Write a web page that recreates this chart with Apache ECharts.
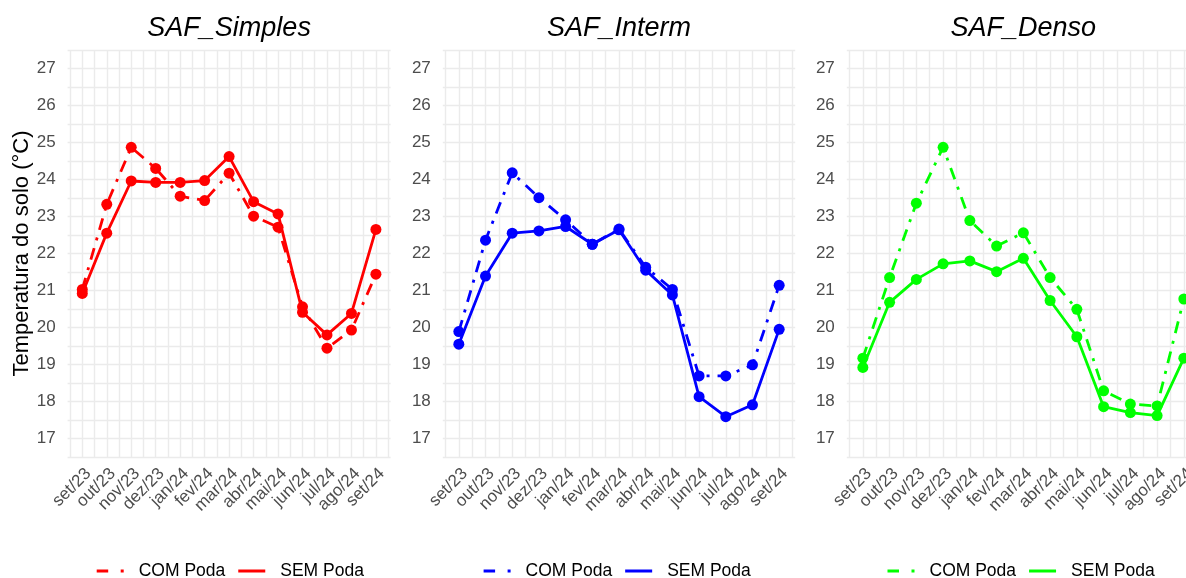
<!DOCTYPE html>
<html><head><meta charset="utf-8">
<script src="https://cdn.jsdelivr.net/npm/echarts@6/dist/echarts.min.js"></script>
<style>html,body{margin:0;padding:0;background:#fff;overflow:hidden;width:1186px;height:578px}#c{width:1215px;height:578px}</style>
</head><body><div id="c"></div>
<script>
// ---- data ----
const months = ['set/23','out/23','nov/23','dez/23','jan/24','fev/24','mar/24','abr/24','mai/24','jun/24','jul/24','ago/24','set/24'];
const panelTitles = ['SAF_Simples','SAF_Interm','SAF_Denso'];
const seriesNames = ['COM Poda','SEM Poda'];
const yTicks = [17,18,19,20,21,22,23,24,25,26,27];
const yTitle = 'Temperatura do solo (°C)';

const simplesCom = [21.03,23.33,24.87,24.30,23.55,23.43,24.17,23.01,22.71,20.56,19.44,19.93,21.44];
const simplesSem = [20.92,22.55,23.96,23.92,23.92,23.97,24.62,23.40,23.07,20.41,19.80,20.38,22.65];
const intermCom  = [19.89,22.36,24.18,23.51,22.91,22.25,22.66,21.63,21.03,18.69,18.69,18.99,21.14];
const intermSem  = [19.55,21.39,22.55,22.61,22.73,22.25,22.64,21.55,20.88,18.13,17.59,17.91,19.95];
const densoCom   = [19.17,21.35,23.36,24.87,22.89,22.20,22.56,21.35,20.49,18.29,17.93,17.88,20.77];
const densoSem   = [18.92,20.68,21.30,21.72,21.80,21.51,21.87,20.73,19.75,17.86,17.70,17.62,19.17];

const panelData = [[simplesCom, simplesSem],[intermCom, intermSem],[densoCom, densoSem]];
const colors = ['#FF0000','#0000FF','#00FF00'];

// ---- layout ----
const FONT = '"Liberation Sans", Arial, Helvetica, sans-serif';
const gridLayout = [{left:67.6,width:323},{left:442.8,width:352.4},{left:846.8,width:353.1}];
const legendLeft = [96.7, 483.6, 887.5];
const GRID_TOP = 50, GRID_H = 407;
const xTickVals = months.flatMap((m,i)=>[i-0.5,i]).concat([months.length-0.5]);
const xLabelVals = months.map((m,i)=>i);
const gridColor = '#EBEBEB';
const comDash = [12,8,3,8];
const comIcon = 'path://M0,0H11.5V3H0Z M24,0H27V3H24Z';

const chart = echarts.init(document.getElementById('c'), null, {renderer:'canvas'});

const grid=[], xAxis=[], yAxis=[], series=[], legend=[], graphic=[];
panelTitles.forEach((t,p)=>{
  const g = gridLayout[p];
  grid.push({left:g.left, width:g.width, top:GRID_TOP, height:GRID_H, containLabel:false});
  xAxis.push({
    type:'value', gridIndex:p, min:-0.6, max:months.length-1+0.6,
    axisLine:{show:false},
    axisTick:{show:false, customValues:xTickVals},
    axisLabel:{customValues:xLabelVals, formatter:v=>months[Math.round(v)], rotate:45,
      align:'right', verticalAlign:'top', margin:8, color:'#4D4D4D', fontSize:17, fontFamily:FONT},
    splitLine:{show:true, lineStyle:{color:gridColor, width:1.4}}
  });
  yAxis.push({
    type:'value', gridIndex:p, min:16.5, max:27.5, interval:0.5,
    axisLine:{show:false}, axisTick:{show:false},
    axisLabel:{customValues:yTicks, formatter:v=>String(v), margin:12, color:'#4D4D4D', fontSize:17, fontFamily:FONT},
    splitLine:{show:true, lineStyle:{color:gridColor, width:1.4}},
    name: p===0 ? yTitle : '', nameLocation:'middle', nameGap:35,
    nameTextStyle:{fontSize:22, color:'#000', fontFamily:FONT}
  });
  const [com, sem] = panelData[p];
  series.push({
    name:seriesNames[0], type:'line', xAxisIndex:p, yAxisIndex:p,
    data: months.map((m,i)=>[i, com[i]]),
    symbol:'circle', symbolSize:11, showSymbol:true,
    itemStyle:{color:colors[p]},
    lineStyle:{color:colors[p], width:2.8, type:comDash, cap:'butt'},
    emphasis:{disabled:true}, animation:false, z:3
  });
  series.push({
    name:seriesNames[1], type:'line', xAxisIndex:p, yAxisIndex:p,
    data: months.map((m,i)=>[i, sem[i]]),
    symbol:'circle', symbolSize:11, showSymbol:true,
    itemStyle:{color:colors[p]},
    lineStyle:{color:colors[p], width:2.8, type:'solid'},
    emphasis:{disabled:true}, animation:false, z:4
  });
  legend.push({
    left:legendLeft[p], top:562, orient:'horizontal', padding:0,
    itemWidth:27, itemHeight:3, itemGap:13, selectedMode:false,
    textStyle:{fontSize:17.5, color:'#000', fontFamily:FONT, padding:[0,0,0,10]},
    data:[
      {name:seriesNames[0], icon:comIcon, itemStyle:{color:colors[p], borderWidth:0}},
      {name:seriesNames[1], icon:'rect', itemStyle:{color:colors[p], borderWidth:0}}
    ]
  });
  graphic.push({
    type:'text', x:g.left + g.width/2, y:28, silent:true,
    style:{text:t, font:'italic 27px ' + FONT, fill:'#000', align:'center', verticalAlign:'middle'}
  });
});

chart.setOption({animation:false, grid, xAxis, yAxis, series, legend, graphic});
</script></body></html>
